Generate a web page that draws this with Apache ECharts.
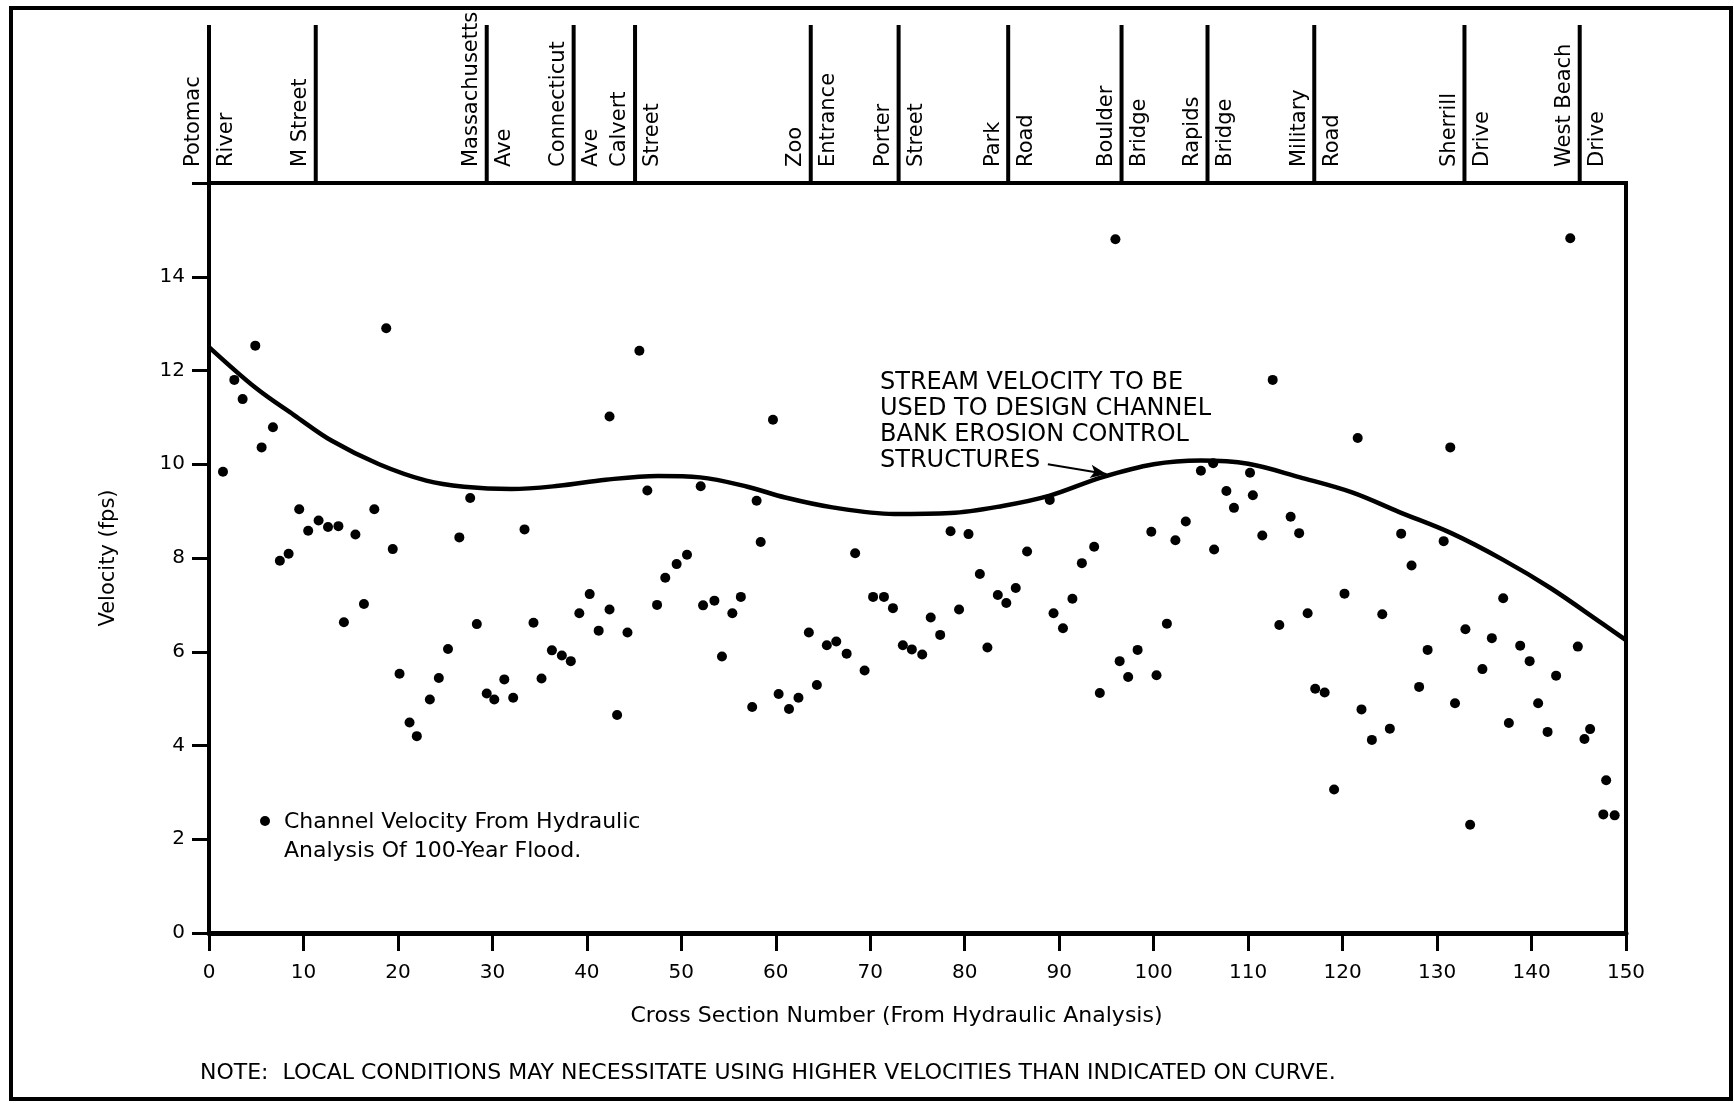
<!DOCTYPE html>
<html lang="en">
<head>
  <meta charset="UTF-8">
  <title>Stream velocity vs cross section</title>
  <style>
    * { margin: 0; padding: 0; }
    body { background: #fff; }
  </style>
  <script src="https://cdn.jsdelivr.net/npm/echarts@6/dist/echarts.min.js"></script>
</head>
<body>
  <div id="chart" style="width: 1734px; height: 1103px;"></div>
  <script>
    const FONT = '"DejaVu Sans", "Liberation Sans", sans-serif'

    // streets crossing the channel (cross section number of each divider)
    const streetPos = [0, 11.3, 29.4, 38.6, 45.1, 63.7, 73.0, 84.6, 96.6, 105.7, 117.0, 132.9, 145.1]
    const streetBefore = ['Potomac', 'M Street', 'Massachusetts', 'Connecticut', 'Calvert', 'Zoo', 'Porter', 'Park', 'Boulder', 'Rapids', 'Military', 'Sherrill', 'West Beach']
    const streetAfter = ['River', '', 'Ave', 'Ave', 'Street', 'Entrance', 'Street', 'Road', 'Bridge', 'Bridge', 'Road', 'Drive', 'Drive']

    // design curve: stream velocity for bank erosion control structures
    const curveX = [0, 5, 9, 13, 18, 23, 27, 32, 37, 42, 47.5, 52, 57, 61, 66, 72.5, 78.5, 84, 89, 94.5, 100, 105, 110, 115.5, 121, 126, 131.5, 137, 142, 147.5, 150]
    const curveY = [12.5, 11.62, 11.05, 10.5, 10.0, 9.65, 9.52, 9.47, 9.54, 9.67, 9.75, 9.72, 9.52, 9.29, 9.08, 8.94, 8.96, 9.11, 9.33, 9.72, 10.0, 10.08, 10.01, 9.72, 9.4, 8.98, 8.53, 7.96, 7.36, 6.6, 6.25]

    // channel velocity from hydraulic analysis of 100-year flood
    const sectionX = [1.48, 2.68, 3.56, 4.9, 5.57, 6.77, 7.5, 8.43, 9.55, 10.5, 11.6, 12.6, 13.7, 14.28, 15.5, 16.4, 17.5, 18.76, 19.45, 20.17,
      21.23, 22.0, 23.38, 24.33, 25.3, 26.5, 27.65, 28.35, 29.4, 30.2, 31.26, 32.2, 33.4, 34.35, 35.2, 36.3, 37.35, 38.3, 39.2, 40.3,
      41.25, 42.4, 42.4, 43.2, 44.3, 45.56, 46.4, 47.43, 48.3, 49.5, 50.6, 52.05, 52.3, 53.5, 54.3, 55.4, 56.3, 57.5, 57.97, 58.4,
      59.7, 60.3, 61.4, 62.4, 63.5, 64.35, 65.4, 66.4, 67.5, 68.4, 69.4, 70.3, 71.45, 72.4, 73.45, 74.4, 75.5, 76.4, 77.4, 78.5,
      79.4, 80.4, 81.6, 82.4, 83.5, 84.4, 85.4, 86.6, 89.0, 89.4, 90.4, 91.4, 92.4, 93.7, 94.3, 95.95, 96.4, 97.3, 98.3, 99.75,
      100.3, 101.4, 102.3, 103.4, 105.0, 106.3, 106.4, 107.7, 108.5, 110.2, 110.5, 111.5, 112.6, 113.3, 114.5, 115.4, 116.3, 117.1, 118.1, 119.1,
      120.2, 121.6, 122.0, 123.1, 124.2, 125.0, 126.2, 127.3, 128.1, 129.0, 130.7, 131.4, 131.9, 133.0, 133.5, 134.8, 135.8, 137.0, 137.6, 138.8,
      139.8, 140.7, 141.7, 142.6, 144.1, 144.9, 145.6, 146.2, 147.6, 147.9, 148.8]
    const sectionV = [9.84, 11.80, 11.39, 12.53, 10.36, 10.79, 7.94, 8.09, 9.04, 8.58, 8.80, 8.66, 8.68, 6.63, 8.50, 7.02, 9.04, 12.90, 8.19, 5.53,
      4.49, 4.20, 4.98, 5.44, 6.06, 8.44, 9.28, 6.59, 5.11, 4.98, 5.41, 5.02, 8.61, 6.62, 5.43, 6.03, 5.92, 5.80, 6.82, 7.23,
      6.45, 11.02, 6.90, 4.65, 6.41, 12.42, 9.44, 7.00, 7.58, 7.87, 8.07, 9.53, 6.99, 7.09, 5.90, 6.82, 7.17, 4.82, 9.22, 8.34,
      10.95, 5.10, 4.78, 5.02, 6.41, 5.29, 6.14, 6.22, 5.96, 8.10, 5.60, 7.17, 7.17, 6.93, 6.14, 6.05, 5.94, 6.73, 6.36, 8.57,
      6.90, 8.51, 7.66, 6.09, 7.21, 7.04, 7.36, 8.14, 9.24, 6.82, 6.50, 7.13, 7.89, 8.24, 5.12, 14.80, 5.80, 5.46, 6.04, 8.56,
      5.50, 6.60, 8.38, 8.78, 9.86, 10.02, 8.18, 9.43, 9.07, 9.82, 9.34, 8.48, 11.80, 6.57, 8.88, 8.53, 6.82, 5.21, 5.13, 3.06,
      7.24, 10.56, 4.77, 4.12, 6.80, 4.36, 8.52, 7.84, 5.25, 6.04, 8.36, 10.36, 4.90, 6.48, 2.31, 5.63, 6.29, 7.14, 4.48, 6.13,
      5.80, 4.90, 4.29, 5.49, 14.82, 6.11, 4.14, 4.35, 2.53, 3.26, 2.51]

    // arrow from the curve note to the curve
    const arrowFrom = [88.8, 10.0]
    const arrowTo = [95.0, 9.79]

    const chart = echarts.init(document.getElementById('chart'))

    const option = {
      animation: false,
      backgroundColor: '#fff',
      grid: [
        { left: 209, right: 108, top: 183, bottom: 170, show: true, borderColor: '#000', borderWidth: 4 },
        { left: 209, right: 108, top: 25, height: 158 }
      ],
      xAxis: [
        {
          gridIndex: 0, type: 'value', min: 0, max: 150, interval: 10,
          name: 'Cross Section Number (From Hydraulic Analysis)',
          nameLocation: 'middle', nameGap: 72,
          nameTextStyle: { fontFamily: FONT, fontSize: 22, color: '#000', padding: [0, 42, 0, 0] },
          axisLine: { onZero: false, lineStyle: { color: '#000', width: 5 } },
          axisTick: { inside: false, length: 18, lineStyle: { color: '#000', width: 3 } },
          axisLabel: { margin: 30, fontFamily: FONT, fontSize: 20, color: '#000' },
          splitLine: { show: false }
        },
        { gridIndex: 1, type: 'value', min: 0, max: 150, show: false }
      ],
      yAxis: [
        {
          gridIndex: 0, type: 'value', min: 0, max: 16, interval: 2,
          name: 'Velocity (fps)',
          nameLocation: 'middle', nameGap: 90,
          nameTextStyle: { fontFamily: FONT, fontSize: 21, color: '#000' },
          axisLine: { show: true, lineStyle: { color: '#000', width: 4 } },
          axisTick: { show: true, inside: false, length: 17, lineStyle: { color: '#000', width: 3 } },
          axisLabel: {
            margin: 24, fontFamily: FONT, fontSize: 20, color: '#000',
            formatter: v => (v === 16 ? '' : v)
          },
          splitLine: { show: false }
        },
        { gridIndex: 1, type: 'value', min: 0, max: 1, show: false }
      ],
      series: [
        {
          type: 'line',
          xAxisIndex: 0, yAxisIndex: 0,
          data: curveX.map((x, i) => [x, curveY[i]]),
          smooth: 0.35,
          showSymbol: false,
          lineStyle: { color: '#000', width: 4.5 },
          z: 3,
          markLine: {
            silent: true,
            symbol: ['none', 'arrow'],
            symbolSize: [10, 16],
            label: { show: false },
            lineStyle: { color: '#000', width: 2, type: 'solid', curveness: 0.25 },
            data: [[{ coord: arrowFrom }, { coord: arrowTo }]]
          }
        },
        {
          type: 'scatter',
          xAxisIndex: 0, yAxisIndex: 0,
          data: sectionX.map((x, i) => [x, sectionV[i]]),
          symbol: 'circle',
          symbolSize: 10,
          itemStyle: { color: '#000', opacity: 1 },
          z: 4
        },
        {
          type: 'custom',
          xAxisIndex: 1, yAxisIndex: 1,
          data: streetPos.map(p => [p, 0]),
          encode: { x: 0, y: 1 },
          clip: false,
          silent: true,
          renderItem: function (params, api) {
            const i = params.dataIndex
            const top = api.coord([api.value(0), 1])
            const bot = api.coord([api.value(0), 0])
            const font = '21px ' + FONT
            return {
              type: 'group',
              children: [
                { type: 'line', shape: { x1: top[0], y1: top[1], x2: bot[0], y2: bot[1] + 2 }, style: { stroke: '#000', lineWidth: 4 } },
                { type: 'text', x: bot[0] - 15, y: bot[1] - 16, rotation: Math.PI / 2,
                  style: { text: streetBefore[i], font: font, fill: '#000', align: 'left', verticalAlign: 'middle' } },
                { type: 'text', x: bot[0] + 18, y: bot[1] - 16, rotation: Math.PI / 2,
                  style: { text: streetAfter[i], font: font, fill: '#000', align: 'left', verticalAlign: 'middle' } }
              ]
            }
          }
        }
      ],
      graphic: [
        { type: 'rect', shape: { x: 11, y: 8, width: 1720, height: 1091 }, style: { fill: 'none', stroke: '#000', lineWidth: 4 }, z: 10 },
        { type: 'text', left: 880, top: 370,
          style: { text: 'STREAM VELOCITY TO BE\nUSED TO DESIGN CHANNEL\nBANK EROSION CONTROL\nSTRUCTURES', font: '24px ' + FONT, lineHeight: 26, fill: '#000' } },
        { type: 'circle', shape: { cx: 265, cy: 821, r: 5 }, style: { fill: '#000' } },
        { type: 'text', left: 284, top: 808,
          style: { text: 'Channel Velocity From Hydraulic\nAnalysis Of 100-Year Flood.', font: '22px ' + FONT, lineHeight: 29, fill: '#000' } },
        { type: 'text', left: 200, top: 1062,
          style: { text: 'NOTE:  LOCAL CONDITIONS MAY NECESSITATE USING HIGHER VELOCITIES THAN INDICATED ON CURVE.', font: '22px ' + FONT, fill: '#000' } }
      ]
    }

    chart.setOption(option)
  </script>
</body>
</html>
